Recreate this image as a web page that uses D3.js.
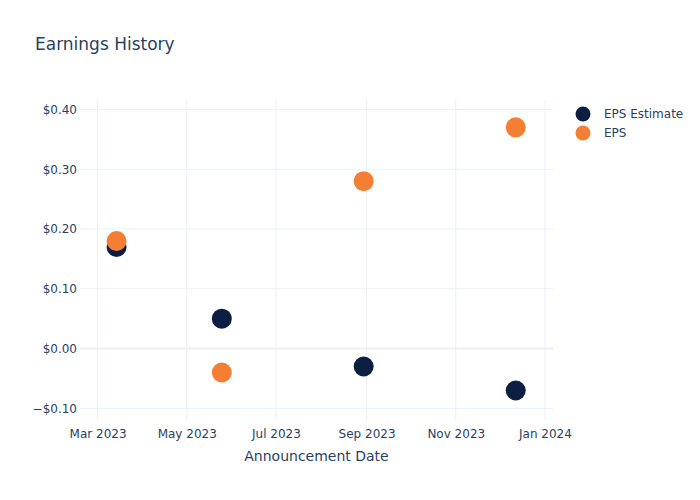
<!DOCTYPE html>
<html>
<head>
<meta charset="utf-8">
<script src="https://cdn.jsdelivr.net/npm/d3@7"></script>
<style>
  body { margin: 0; background: #fff; }
  text { font-family: "DejaVu Sans", "Open Sans", verdana, arial, sans-serif; }
</style>
</head>
<body>
<svg id="chart" width="700" height="500"></svg>
<script>
const dates = ["2023-03-14", "2023-05-25", "2023-08-30", "2023-12-12"];
const epsEstimate = [0.17, 0.05, -0.03, -0.07];
const eps = [0.18, -0.04, 0.28, 0.37];
const seriesNames = ["EPS Estimate", "EPS"];
const seriesColors = ["#0c1f42", "#f47e33"];
const xTickDates = ["2023-03-01", "2023-05-01", "2023-07-01", "2023-09-01", "2023-11-01", "2024-01-01"];
const yTicks = [-0.1, 0, 0.1, 0.2, 0.3, 0.4];

const parse = d3.timeParse("%Y-%m-%d");
const svg = d3.select("#chart");
const W = 700, H = 500;
const m = { l: 80, r: 147, t: 100, b: 80 };
const pw = W - m.l - m.r, ph = H - m.t - m.b;
const textColor = "#2a3f5f";
const gridColor = "#ebf0f8";

const x = d3.scaleTime()
  .domain([parse("2023-02-17"), new Date(2024, 0, 6, 12)])
  .range([m.l, m.l + pw]);
const y = d3.scaleLinear()
  .domain([-0.1194, 0.4157])
  .range([m.t + ph, m.t]);

// title
svg.append("text").attr("x", 35).attr("y", 50)
  .attr("font-size", 17).attr("fill", textColor).text("Earnings History");

// grid
const g = svg.append("g");
const xt = xTickDates.map(parse);
g.selectAll("line.vx").data(xt).enter().append("line")
  .attr("x1", d => x(d)).attr("x2", d => x(d))
  .attr("y1", m.t).attr("y2", m.t + ph)
  .attr("stroke", gridColor).attr("stroke-width", 1);
g.selectAll("line.hy").data(yTicks).enter().append("line")
  .attr("x1", m.l).attr("x2", m.l + pw)
  .attr("y1", d => y(d)).attr("y2", d => y(d))
  .attr("stroke", gridColor).attr("stroke-width", d => d === 0 ? 2 : 1);

// axes
const fmtY = v => (v < 0 ? "\u2212" : "") + "$" + Math.abs(v).toFixed(2);
const xAxis = d3.axisBottom(x).tickValues(xt).tickFormat(d3.timeFormat("%b %Y")).tickSize(0).tickPadding(9);
const yAxis = d3.axisLeft(y).tickValues(yTicks).tickFormat(fmtY).tickSize(0).tickPadding(3);
const gx = svg.append("g").attr("transform", `translate(0,${m.t + ph})`).call(xAxis);
const gy = svg.append("g").attr("transform", `translate(${m.l},0)`).call(yAxis);
[gx, gy].forEach(a => {
  a.select(".domain").remove();
  a.selectAll("text").attr("font-size", 12).attr("fill", textColor)
    .style("font-family", "\"DejaVu Sans\", sans-serif");
});

svg.append("text").attr("x", m.l + pw / 2).attr("y", 461)
  .attr("text-anchor", "middle").attr("font-size", 14).attr("fill", textColor)
  .text("Announcement Date");

// points
const series = [epsEstimate, eps];
series.forEach((vals, si) => {
  svg.append("g").selectAll("circle").data(vals).enter().append("circle")
    .attr("cx", (d, i) => x(parse(dates[i])))
    .attr("cy", d => y(d))
    .attr("r", 10)
    .attr("fill", seriesColors[si]);
});

// legend
const lg = svg.append("g");
seriesNames.forEach((n, i) => {
  lg.append("circle").attr("cx", 583).attr("cy", 114 + i * 19).attr("r", 7.5).attr("fill", seriesColors[i]);
  lg.append("text").attr("x", 604).attr("y", 118 + i * 19).attr("font-size", 12)
    .attr("fill", textColor).text(n);
});
</script>
</body>
</html>
